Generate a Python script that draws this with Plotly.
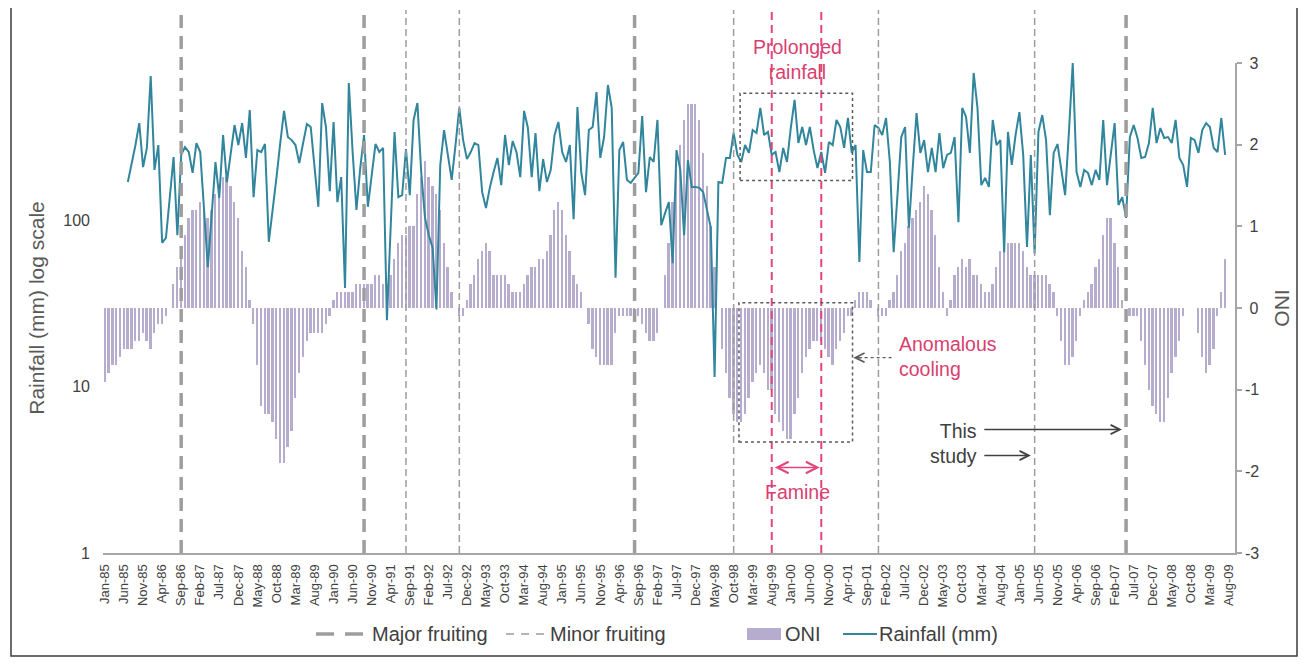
import plotly.graph_objects as go

# ---------------- data ----------------
MONTHS = ["Jan", "Feb", "Mar", "Apr", "May", "Jun", "Jul", "Aug", "Sep", "Oct", "Nov", "Dec"]

tick_labels = [
    "Jan-85", "Jun-85", "Nov-85", "Apr-86", "Sep-86", "Feb-87", "Jul-87", "Dec-87", "May-88", "Oct-88",
    "Mar-89", "Aug-89", "Jan-90", "Jun-90", "Nov-90", "Apr-91", "Sep-91", "Feb-92", "Jul-92", "Dec-92",
    "May-93", "Oct-93", "Mar-94", "Aug-94", "Jan-95", "Jun-95", "Nov-95", "Apr-96", "Sep-96", "Feb-97",
    "Jul-97", "Dec-97", "May-98", "Oct-98", "Mar-99", "Aug-99", "Jan-00", "Jun-00", "Nov-00", "Apr-01",
    "Sep-01", "Feb-02", "Jul-02", "Dec-02", "May-03", "Oct-03", "Mar-04", "Aug-04", "Jan-05", "Jun-05",
    "Nov-05", "Apr-06", "Sep-06", "Feb-07", "Jul-07", "Dec-07", "May-08", "Oct-08", "Mar-09", "Aug-09",
]

# ONI, monthly from Jan-85
oni = [
    -0.9, -0.8, -0.7, -0.7, -0.6, -0.5, -0.5, -0.5, -0.4, -0.4, -0.3, -0.4,   # 1985
    -0.5, -0.3, -0.2, -0.2, -0.1, 0.0, 0.3, 0.5, 0.7, 0.9, 1.1, 1.2,          # 1986
    1.2, 1.3, 1.2, 1.1, 1.2, 1.4, 1.5, 1.6, 1.6, 1.5, 1.3, 1.1,               # 1987
    0.7, 0.5, 0.1, -0.2, -0.7, -1.2, -1.3, -1.3, -1.4, -1.6, -1.9, -1.9,      # 1988
    -1.7, -1.5, -1.1, -0.8, -0.6, -0.4, -0.3, -0.3, -0.3, -0.3, -0.2, -0.1,   # 1989
    0.1, 0.2, 0.2, 0.2, 0.2, 0.2, 0.3, 0.3, 0.3, 0.3, 0.3, 0.4,               # 1990
    0.4, 0.3, 0.3, 0.4, 0.6, 0.8, 0.9, 0.9, 1.0, 1.0, 1.4, 1.6,               # 1991
    1.8, 1.6, 1.5, 1.4, 1.2, 0.8, 0.5, 0.2, 0.0, -0.1, -0.1, 0.1,             # 1992
    0.3, 0.4, 0.6, 0.7, 0.8, 0.7, 0.4, 0.4, 0.4, 0.4, 0.3, 0.2,               # 1993
    0.2, 0.2, 0.3, 0.4, 0.5, 0.5, 0.6, 0.6, 0.7, 0.9, 1.2, 1.3,               # 1994
    1.2, 0.9, 0.7, 0.4, 0.3, 0.2, 0.0, -0.2, -0.5, -0.6, -0.7, -0.7,          # 1995
    -0.7, -0.7, -0.3, -0.1, -0.1, -0.1, -0.1, -0.1, -0.1, -0.2, -0.3, -0.4,   # 1996
    -0.4, -0.3, 0.0, 0.4, 0.8, 1.3, 1.7, 2.0, 2.3, 2.5, 2.5, 2.5,             # 1997
    2.3, 1.9, 1.5, 1.0, 0.5, 0.0, -0.5, -0.8, -1.1, -1.3, -1.4, -1.4,         # 1998
    -1.3, -1.1, -0.9, -0.8, -0.7, -0.8, -1.0, -1.0, -1.3, -1.4, -1.5, -1.6,   # 1999
    -1.6, -1.3, -1.1, -0.8, -0.6, -0.5, -0.4, -0.4, -0.4, -0.5, -0.6, -0.7,   # 2000
    -0.5, -0.4, -0.3, -0.1, -0.1, 0.1, 0.2, 0.2, 0.2, 0.1, 0.0, -0.1,         # 2001
    -0.1, -0.1, 0.1, 0.2, 0.4, 0.7, 0.8, 1.0, 1.1, 1.2, 1.3, 1.5,             # 2002
    1.4, 1.2, 0.9, 0.5, 0.2, -0.1, 0.1, 0.4, 0.5, 0.6, 0.5, 0.6,              # 2003
    0.4, 0.4, 0.3, 0.2, 0.2, 0.3, 0.5, 0.7, 0.8, 0.8, 0.8, 0.8,               # 2004
    0.8, 0.7, 0.5, 0.4, 0.4, 0.4, 0.4, 0.4, 0.3, 0.2, -0.1, -0.4,             # 2005
    -0.7, -0.7, -0.6, -0.4, -0.1, 0.1, 0.2, 0.3, 0.5, 0.6, 0.9, 1.1,          # 2006
    1.1, 0.8, 0.5, 0.1, 0.0, -0.1, -0.1, -0.1, -0.4, -0.7, -1.0, -1.2,        # 2007
    -1.3, -1.4, -1.4, -1.1, -0.8, -0.6, -0.4, -0.1, 0.0, 0.0, 0.0, -0.3,      # 2008
    -0.6, -0.8, -0.7, -0.5, -0.1, 0.2, 0.6,                                   # 2009
]

# Rainfall (mm), monthly from Jul-85
rainfall_start = "Jul-85"
rainfall = [
    169, 214, 282, 382, 208, 271,                                   # 1985 Jul-Dec
    733, 200, 282, 73, 78, 136, 239, 81, 246, 274, 256, 192,        # 1986
    290, 256, 118, 52, 107, 223, 136, 324, 169, 246, 372, 282,      # 1987
    382, 236, 458, 137, 263, 256, 286, 74, 112, 179, 290, 452,      # 1988
    315, 302, 282, 220, 290, 377, 362, 214, 120, 504, 362, 149,     # 1989
    388, 128, 181, 39, 665, 256, 115, 205, 324, 120, 186, 286,      # 1990
    256, 271, 25, 97, 338, 137, 141, 267, 141, 399, 504, 194,       # 1991
    103, 81, 68, 29, 214, 347, 246, 174, 282, 471, 302, 232,        # 1992
    256, 290, 282, 147, 118, 156, 194, 236, 162, 324, 214, 298,     # 1993
    256, 181, 452, 357, 181, 333, 149, 232, 169, 200, 324, 388,     # 1994
    256, 223, 282, 101, 477, 194, 141, 347, 362, 587, 236, 315,     # 1995
    647, 471, 45, 263, 294, 174, 167, 179, 192, 421, 147, 239,      # 1996
    223, 399, 93, 110, 128, 55, 263, 200, 81, 229, 158, 158,        # 1997
    156, 147, 112, 90, 11.4, 169, 167, 236, 236, 333, 246, 223,     # 1998
    282, 253, 347, 333, 471, 324, 338, 246, 256, 194, 271, 223,     # 1999
    357, 526, 290, 362, 282, 362, 263, 205, 256, 192, 294, 282,     # 2000
    399, 362, 271, 410, 253, 282, 56, 263, 194, 194, 372, 357,      # 2001
    324, 410, 223, 64, 141, 315, 362, 90, 205, 439, 253, 302,       # 2002
    194, 271, 194, 333, 205, 246, 253, 315, 97, 471, 416, 253,      # 2003
    764, 471, 162, 179, 158, 399, 282, 302, 64, 338, 214, 324,      # 2004
    445, 246, 69, 246, 63, 338, 427, 302, 107, 253, 286, 194,       # 2005
    141, 338, 877, 194, 158, 200, 192, 162, 200, 174, 399, 162,     # 2006
    256, 382, 123, 137, 103, 315, 372, 311, 236, 239, 290, 471,     # 2007
    290, 357, 311, 315, 290, 399, 236, 214, 158, 311, 302, 253,     # 2008
    347, 382, 362, 271, 256, 410, 246,                              # 2009 Jan-Jul
]

major_fruiting = ["Sep-86", "Sep-90", "Aug-96", "May-07"]
minor_fruiting = ["Aug-91", "Oct-92", "Oct-98", "Dec-01", "May-05"]
famine_period = ["Aug-99", "Sep-00"]


def month_index(label):
    m, y = label.split("-")
    yr = int(y)
    yr = 1900 + yr if yr >= 50 else 2000 + yr
    return (yr - 1985) * 12 + MONTHS.index(m)


# ---------------- styling / geometry ----------------
PAGE_OFF = 8                       # default body margin of the html page
PL, PR, PT, PB = 103, 1235, 63, 553  # plot area in page pixels
W, H = 1307 - PAGE_OFF, 666 - PAGE_OFF
ML, MT = PL - PAGE_OFF, PT - PAGE_OFF
MR, MB = W - (PR - PAGE_OFF), H - (PB - PAGE_OFF)
PW, PH = PR - PL, PB - PT
FONT = "Liberation Sans, Arial, sans-serif"
PINK_TXT = "#d83f70"
PINK_LN = "#e3457b"
GREY_LN = "#9d9d9d"
AX_GREY = "#a6a6a6"
TXT = "#404040"
ONI_COL = "#b6acce"
RAIN_COL = "#31859c"


def PX(x):
    return (x - PL) / PW


def PY(y):
    return (PB - y) / PH


oni_x = list(range(len(oni)))
r0 = month_index(rainfall_start)
rain_x = list(range(r0, r0 + len(rainfall)))
tick_vals = [month_index(t) for t in tick_labels]

fig = go.Figure()
fig.add_trace(go.Bar(x=oni_x, y=oni, yaxis="y", width=0.48,
                     marker=dict(color=ONI_COL, line=dict(width=0)),
                     showlegend=False, hoverinfo="skip"))
fig.add_trace(go.Scatter(x=rain_x, y=rainfall, yaxis="y2", mode="lines",
                         line=dict(color=RAIN_COL, width=2),
                         showlegend=False, hoverinfo="skip"))

shapes = []
top = PY(10)
for m in major_fruiting:
    i = month_index(m)
    shapes.append(dict(type="line", xref="x", yref="paper", x0=i, x1=i, y0=0, y1=top,
                       line=dict(color=GREY_LN, width=3.5, dash="13px,8px"), layer="above"))
for m in minor_fruiting:
    i = month_index(m)
    shapes.append(dict(type="line", xref="x", yref="paper", x0=i, x1=i, y0=0, y1=top,
                       line=dict(color=GREY_LN, width=1.5, dash="7px,4px"), layer="above"))
for m in famine_period:
    i = month_index(m)
    shapes.append(dict(type="line", xref="x", yref="paper", x0=i, x1=i, y0=0, y1=top,
                       line=dict(color=PINK_LN, width=2, dash="8px,5px"), layer="above"))

# dotted boxes
box_line = dict(color="#5a5a5a", width=1.5, dash="3px,3px")
shapes.append(dict(type="rect", xref="x", yref="y", x0=166.7, x1=196.2, y0=1.56, y1=2.63,
                   line=box_line, layer="above"))
shapes.append(dict(type="rect", xref="x", yref="y", x0=166.4, x1=196.2, y0=-1.64, y1=0.065,
                   line=box_line, layer="above"))
# dashed pointer for anomalous cooling
shapes.append(dict(type="line", xref="x", yref="y", x0=197.8, x1=207.3, y0=-0.608, y1=-0.608,
                   line=dict(color="#5a5a5a", width=1.3, dash="3px,3px"), layer="above"))

# outer frame
shapes.append(dict(type="rect", xref="paper", yref="paper", x0=PX(11), x1=PX(1297),
                   y0=PY(656), y1=PY(7), line=dict(color="#3c3c3c", width=1.5), layer="above"))

# manual legend
ly = PY(634)
shapes.append(dict(type="line", xref="paper", yref="paper", x0=PX(316), x1=PX(365), y0=ly, y1=ly,
                   line=dict(color=GREY_LN, width=3.5, dash="18px,11px")))
shapes.append(dict(type="line", xref="paper", yref="paper", x0=PX(506), x1=PX(544), y0=ly, y1=ly,
                   line=dict(color=GREY_LN, width=1.5, dash="8px,7px")))
shapes.append(dict(type="rect", xref="paper", yref="paper", x0=PX(747), x1=PX(781), y0=PY(640), y1=PY(628),
                   fillcolor=ONI_COL, line=dict(width=0)))
shapes.append(dict(type="line", xref="paper", yref="paper", x0=PX(843), x1=PX(877), y0=ly, y1=ly,
                   line=dict(color=RAIN_COL, width=2)))

ann = []
for txt, x in [("Major fruiting", 370), ("Minor fruiting", 548), ("ONI", 783), ("Rainfall (mm)", 877)]:
    ann.append(dict(text=txt, xref="paper", yref="paper", x=PX(x), y=ly, xanchor="left",
                    yanchor="middle", showarrow=False, font=dict(family=FONT, size=20, color=TXT)))

ann.append(dict(text="Prolonged<br>rainfall", xref="paper", yref="paper", x=PX(797), y=PY(60),
                xanchor="center", yanchor="middle", showarrow=False,
                font=dict(family=FONT, size=19.5, color=PINK_TXT)))
ann.append(dict(text="Anomalous<br>cooling", xref="paper", yref="paper", x=PX(897), y=PY(356),
                xanchor="left", yanchor="middle", align="left", showarrow=False,
                font=dict(family=FONT, size=19.5, color=PINK_TXT)))
ann.append(dict(text="Famine", xref="paper", yref="paper", x=PX(797), y=PY(492),
                xanchor="center", yanchor="middle", showarrow=False,
                font=dict(family=FONT, size=19.5, color=PINK_TXT)))
ann.append(dict(text="This<br>study", xref="paper", yref="paper", x=PX(979), y=PY(443),
                xanchor="right", yanchor="middle", align="right", showarrow=False,
                font=dict(family=FONT, size=19.5, color=TXT)))


# arrows
def arrow(x_head, x_tail, y, color, width, both=False):
    return dict(text="", x=x_head, y=y, xref="x", yref="y", ax=x_tail, ay=0,
                axref="x", ayref="pixel", showarrow=True, arrowhead=5, arrowsize=1.4,
                arrowwidth=width, arrowcolor=color, standoff=0, startstandoff=0,
                arrowside="end+start" if both else "end", startarrowhead=5, startarrowsize=1.4)


ann.append(arrow(266.9, 230.4, -1.488, TXT, 1.3))
ann.append(arrow(243.0, 230.4, -1.806, TXT, 1.3))
ann.append(arrow(187.6, 175.4, -1.953, PINK_LN, 1.6, both=True))
ann.append(arrow(196.4, 199.0, -0.608, "#5a5a5a", 1.3))

fig.update_layout(
    width=W, height=H,
    margin=dict(l=ML, r=MR, t=MT, b=MB, autoexpand=False),
    paper_bgcolor="white", plot_bgcolor="white",
    font=dict(family=FONT, color=TXT),
    bargap=0,
    showlegend=False,
    shapes=shapes,
    annotations=ann,
    xaxis=dict(range=[-0.52, 296.59], tickmode="array", tickvals=tick_vals, ticktext=tick_labels,
               tickangle=-90, tickfont=dict(family=FONT, size=13, color=TXT),
               showline=True, linecolor=AX_GREY, linewidth=2, ticks="", showgrid=False,
               zeroline=False, ticklabelstandoff=4),
    yaxis=dict(side="right", range=[-3, 3], tickmode="array", tickvals=[3, 2, 1, 0, -1, -2, -3],
               ticktext=["\u00a03", "\u00a02", "\u00a01", "\u00a00", "-1", "-2", "-3"],
               tickfont=dict(family=FONT, size=16, color=TXT),
               showline=True, linecolor=AX_GREY, linewidth=1.5, ticks="outside", ticklen=5,
               tickcolor=AX_GREY, tickwidth=1.5, showgrid=False, zeroline=False,
               title=dict(text="ONI", font=dict(family=FONT, size=21, color="#595959"), standoff=16)),
    yaxis2=dict(overlaying="y", anchor="x", side="left", type="log", range=[0, 2.943],
                tickmode="array", tickvals=[1, 10, 100], ticktext=["1", "10", "100"],
                tickfont=dict(family=FONT, size=16, color=TXT),
                showline=False, ticks="", showgrid=False, zeroline=False, ticklabelstandoff=12,
                title=dict(text="Rainfall (mm) log scale", font=dict(family=FONT, size=21, color="#595959"),
                           standoff=12)),
)

fig.write_html("out.html")
